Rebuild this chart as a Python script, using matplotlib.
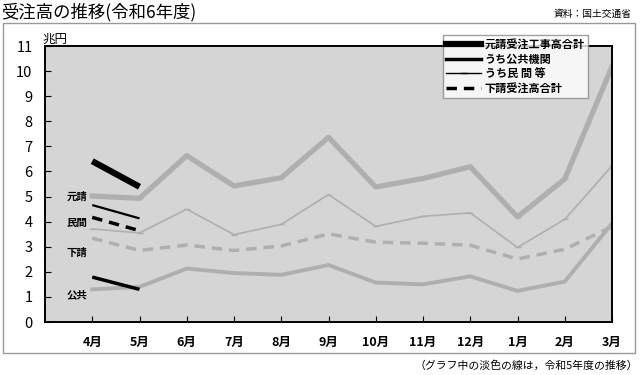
import matplotlib
matplotlib.use('Agg')
import matplotlib.pyplot as plt
from matplotlib.lines import Line2D
from matplotlib.patches import Rectangle

plt.rcParams['font.family'] = ['Noto Sans CJK JP', 'DejaVu Sans']

months = ['4月', '5月', '6月', '7月', '8月', '9月', '10月', '11月', '12月', '1月', '2月', '3月']

# 令和5年度 (淡色)
prev_total = [5.02, 4.93, 6.63, 5.42, 5.75, 7.36, 5.38, 5.72, 6.19, 4.19, 5.70, 10.18]
prev_public = [1.30, 1.40, 2.13, 1.95, 1.88, 2.27, 1.57, 1.50, 1.82, 1.24, 1.61, 3.93]
prev_private = [3.71, 3.55, 4.50, 3.48, 3.89, 5.08, 3.81, 4.21, 4.35, 2.97, 4.09, 6.22]
prev_sub = [3.34, 2.85, 3.07, 2.85, 3.03, 3.51, 3.18, 3.14, 3.06, 2.51, 2.90, 3.80]

# 令和6年度
cur_total = [6.41, 5.39]
cur_public = [1.79, 1.30]
cur_private = [4.66, 4.13]
cur_sub = [4.17, 3.64]

series_labels = ['元請受注工事高合計', 'うち公共機関', 'うち民 間 等', '下請受注高合計']
side_labels = ['元請', '民間', '下請', '公共']
side_label_y = [5.0, 3.95, 2.75, 1.05]

gray = '#afafaf'
bg = '#d5d5d5'

fig = plt.figure(figsize=(6.4, 3.75), dpi=100)
ax = fig.add_axes([45 / 640, 53 / 375, 567 / 640, 276 / 375])
ax.set_facecolor(bg)

x_all = list(range(len(months)))
x_cur = x_all[:len(cur_total)]

# previous year (light)
ax.plot(x_all, prev_total, color=gray, lw=3.8, marker='_', ms=5, zorder=2)
ax.plot(x_all, prev_public, color=gray, lw=2.8, zorder=2)
ax.plot(x_all, prev_private, color=gray, lw=1.2, marker='_', ms=5, zorder=2)
ax.plot(x_all, prev_sub, color=gray, lw=2.5, dashes=(3, 2), zorder=2)

# current year
ax.plot(x_cur, cur_total, color='black', lw=4.5, solid_capstyle='butt', zorder=3)
ax.plot(x_cur, cur_public, color='black', lw=2.5, solid_capstyle='butt', zorder=3)
ax.plot(x_cur, cur_private, color='black', lw=1.6, solid_capstyle='butt', zorder=3)
ax.plot(x_cur, cur_sub, color='black', lw=2.5, dashes=(3, 2), zorder=3)

ax.set_xlim(-1, len(months) - 1)
ax.set_ylim(0, 11)
ax.set_yticks(range(0, 12))
ax.set_xticks(x_all)
ax.set_xticklabels(months, fontsize=9, fontweight='bold')
ax.tick_params(axis='y', direction='in', length=4, labelsize=10.5, pad=9)
ax.tick_params(axis='x', direction='in', length=4, pad=10)
for s in ax.spines.values():
    s.set_linewidth(1.4)

for lab, yv in zip(side_labels, side_label_y):
    ax.text(-0.33, yv, lab, ha='center', va='center', fontsize=7.5, fontweight='bold')

fig.text(42 / 640, 1 - 39 / 375, '兆円', fontsize=9, va='center', ha='left')

handles = [
    Line2D([], [], color='black', lw=4.5),
    Line2D([], [], color='black', lw=2.5),
    Line2D([], [], color='black', lw=1, marker='_', ms=5),
    Line2D([], [], color='black', lw=2.5, dashes=(3, 2)),
]
leg = fig.legend(handles, series_labels, loc='upper left',
                 bbox_to_anchor=(437 / 640, 1 - 29 / 375),
                 frameon=True, fancybox=False, handlelength=3.2,
                 labelspacing=0.15, borderpad=0.3, handletextpad=0.3,
                 prop={'weight': 'bold', 'size': 8})
leg.get_frame().set_edgecolor('#888888')
leg.get_frame().set_linewidth(1)
leg.set_zorder(5)

fig.text(0.002, 1 - 12 / 375, '受注高の推移(令和6年度)', fontsize=12.5, va='center', ha='left')
fig.text(632 / 640, 1 - 14 / 375, '資料：国土交通省', fontsize=7, va='center', ha='right')
fig.text(638 / 640, 1 - 366 / 375, '（グラフ中の淡色の線は，令和5年度の推移）', fontsize=7.8,
         va='center', ha='right')

fig.patches.append(Rectangle((3 / 640, 1 - 353 / 375), 632 / 640, 330 / 375,
                             transform=fig.transFigure, fill=False,
                             edgecolor='#999999', lw=1, zorder=0))

fig.savefig('out.png', dpi=100)
